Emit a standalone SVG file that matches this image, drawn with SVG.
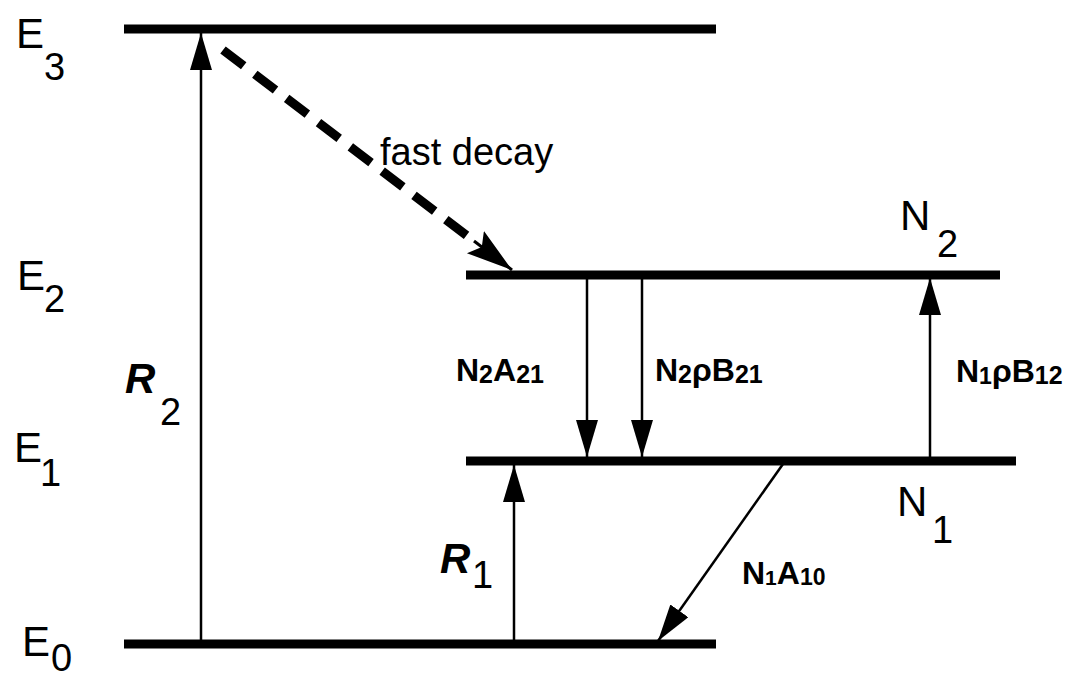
<svg xmlns="http://www.w3.org/2000/svg" width="1075" height="680" viewBox="0 0 1075 680">
<defs>
<style>
.lvl{stroke:#000;stroke-width:9;stroke-linecap:butt}
.ar{stroke:#000;stroke-width:2.5;fill:none}
.big{font-family:"Liberation Sans",Arial,sans-serif;font-size:42px;fill:#000}
.sub{font-family:"Liberation Sans",Arial,sans-serif;font-size:38px;fill:#000}
.bi{font-family:"Liberation Sans",Arial,sans-serif;font-size:42px;font-weight:bold;font-style:italic;fill:#000}
.lab{font-family:"Liberation Sans",Arial,sans-serif;font-size:32px;font-weight:bold;fill:#000}
.fd{font-family:"Liberation Sans",Arial,sans-serif;font-size:38px;fill:#000}
</style>
<marker id="head" markerUnits="userSpaceOnUse" markerWidth="40" markerHeight="24" refX="37" refY="11" orient="auto">
<path d="M0,0 L37,11 L0,22 Z" fill="#000"/>
</marker>
<marker id="headD" markerUnits="userSpaceOnUse" markerWidth="50" markerHeight="30" refX="46" refY="14" orient="auto">
<path d="M0,0 L46,14 L0,28 L8,14 Z" fill="#000"/>
</marker>
</defs>
<rect width="1075" height="680" fill="#fff"/>

<g id="level-E3"><line class="lvl" x1="124" y1="29" x2="716" y2="29"/>
<text class="big" x="16" y="48">E</text><text class="sub" x="44" y="80">3</text></g>
<g id="level-E2"><line class="lvl" x1="466" y1="275" x2="1000" y2="275"/>
<text class="big" x="17" y="290">E</text><text class="sub" x="44" y="312">2</text>
<text class="big" x="900" y="230">N</text><text class="sub" x="937" y="257">2</text></g>
<g id="level-E1"><line class="lvl" x1="466" y1="461" x2="1016" y2="461"/>
<text class="big" x="14" y="462">E</text><text class="sub" x="40" y="486">1</text>
<text class="big" x="897" y="516">N</text><text class="sub" x="932" y="543">1</text></g>
<g id="level-E0"><line class="lvl" x1="124" y1="644" x2="716" y2="644"/>
<text class="big" x="22" y="656">E</text><text class="sub" x="51" y="671">0</text></g>

<g id="connectors">
<line class="ar" x1="201" y1="640" x2="201" y2="33" marker-end="url(#head)"/>
<line class="ar" x1="587" y1="279" x2="587" y2="457" marker-end="url(#head)"/>
<line class="ar" x1="642" y1="279" x2="642" y2="457" marker-end="url(#head)"/>
<line class="ar" x1="930" y1="457" x2="930" y2="278" marker-end="url(#head)"/>
<line class="ar" x1="514" y1="640" x2="514" y2="465" marker-end="url(#head)"/>
<line class="ar" x1="783" y1="464" x2="658" y2="641" stroke-width="4" marker-end="url(#head)"/>
<line x1="223" y1="50" x2="474" y2="241" stroke="#000" stroke-width="9" stroke-dasharray="26 14"/>
<line x1="474" y1="241" x2="512" y2="270" stroke="#000" stroke-width="3" marker-end="url(#headD)"/>
</g>

<g id="labels">
<text class="fd" x="380" y="165">fast decay</text>
<text class="bi" x="125" y="393">R</text><text class="sub" x="160" y="425">2</text>
<text class="bi" x="440" y="573">R</text><text class="sub" x="472" y="588">1</text>
<text class="lab" x="456" y="381">N<tspan font-size="25" dy="2">2</tspan><tspan dy="-2">A</tspan><tspan font-size="25" dy="2">21</tspan></text>
<text class="lab" x="655" y="381">N<tspan font-size="25" dy="2">2</tspan><tspan dy="-2">ρB</tspan><tspan font-size="25" dy="2">21</tspan></text>
<text class="lab" x="956" y="382">N<tspan font-size="23" dy="2">1</tspan><tspan dy="-2">ρB</tspan><tspan font-size="25" dy="2">12</tspan></text>
<text class="lab" x="742" y="584">N<tspan font-size="21" dy="1">1</tspan><tspan dy="-1">A</tspan><tspan font-size="23" dy="1">10</tspan></text>
</g>
</svg>
